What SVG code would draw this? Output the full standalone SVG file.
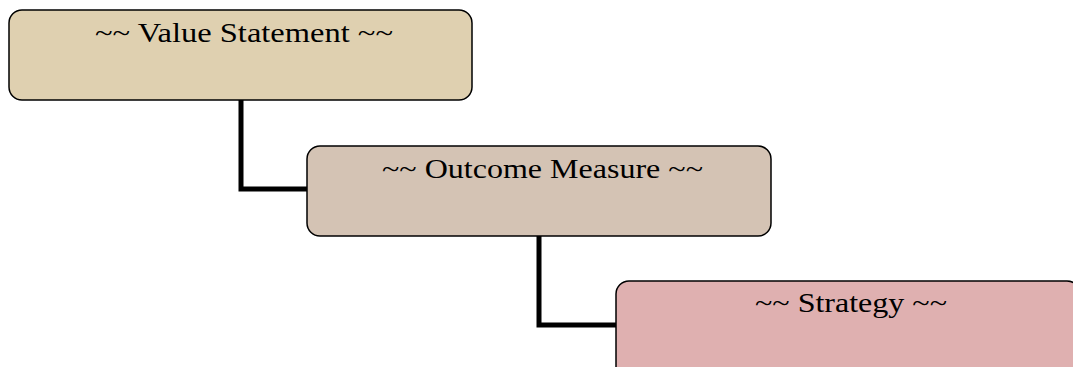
<svg xmlns="http://www.w3.org/2000/svg" width="1073" height="367" viewBox="0 0 1073 367">
<style>
.box{stroke:#000;stroke-width:1.5}
.lbl{font-family:"Liberation Serif","DejaVu Serif",serif;font-size:28px;fill:#000;text-anchor:middle}
.conn{fill:none;stroke:#000;stroke-width:5}
</style>
<rect width="1073" height="367" fill="#fff"/>
<g id="connectors">
<path class="conn" d="M241,100 V189 H308"/>
<path class="conn" d="M539,236 V325 H617"/>
</g>
<g id="node-value">
<rect class="box" x="9" y="10" width="463" height="90" rx="13" fill="#DFD0B0"/>
<text class="lbl" x="244" y="42" textLength="298" lengthAdjust="spacingAndGlyphs">~~ Value Statement ~~</text>
</g>
<g id="node-outcome">
<rect class="box" x="307" y="146" width="464" height="90" rx="13" fill="#D4C3B4"/>
<text class="lbl" x="542.5" y="178" textLength="321" lengthAdjust="spacingAndGlyphs">~~ Outcome Measure ~~</text>
</g>
<g id="node-strategy">
<rect class="box" x="616" y="281" width="464" height="100" rx="13" fill="#DFB0B0"/>
<text class="lbl" x="851" y="312" textLength="192" lengthAdjust="spacingAndGlyphs">~~ Strategy ~~</text>
</g>
</svg>
